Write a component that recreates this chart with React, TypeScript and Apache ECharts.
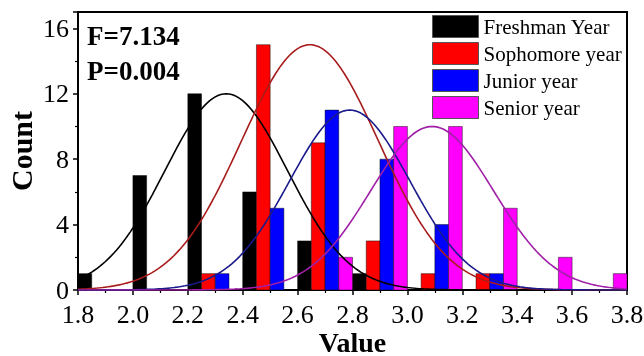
import React, { useEffect, useRef } from "react";
import * as echarts from "echarts";

// Histogram bins (each bin is 0.2 wide, split into four 0.05 slots, one per year)
const binStarts = [1.8, 2.0, 2.2, 2.4, 2.6, 2.8, 3.0, 3.2, 3.4, 3.6];
const seriesNames = ["Freshman Year", "Sophomore year", "Junior year", "Senior year"];
const freshman = [1, 7, 12, 6, 3, 1, 0, 0, 0, 0];
const sophomore = [0, 0, 1, 15, 9, 3, 1, 1, 0, 0];
const junior = [0, 0, 1, 5, 11, 8, 4, 1, 0, 0];
const senior = [0, 0, 0, 0, 2, 10, 10, 5, 2, 1];

// Normal-fit curve parameters per year
const fitMean = [2.34, 2.645, 2.79, 3.09];
const fitSd = [0.224, 0.25, 0.219, 0.224];
const fitPeak = [12, 15, 11, 10];

const barColors = ["#000000", "#ff0000", "#0000ff", "#ff00ff"];
const curveColors = ["#000000", "#a81c1c", "#1a1a8c", "#a020a8"];

const yTicks = [0, 4, 8, 12, 16];
const statsLines = ["F=7.134", "P=0.004"];

const SERIF = "'Times New Roman', 'Liberation Serif', serif";
const SLOT = 0.05;

function barData(values: number[], slot: number) {
  return values
    .map((v, i) => [binStarts[i] + slot * SLOT, binStarts[i] + (slot + 1) * SLOT, v])
    .filter((d) => d[2] > 0);
}

function curveData(k: number) {
  const pts: number[][] = [];
  for (let i = 0; i <= 200; i++) {
    const x = 1.8 + i * 0.01;
    const z = (x - fitMean[k]) / fitSd[k];
    pts.push([x, fitPeak[k] * Math.exp(-0.5 * z * z)]);
  }
  return pts;
}

export default function App() {
  const ref = useRef<HTMLDivElement>(null);

  useEffect(() => {
    if (!ref.current) return;
    const chart = echarts.init(ref.current, null, { renderer: "svg" });
    const groups = [freshman, sophomore, junior, senior];

    const barSeries = groups.map((vals, k) => ({
      name: seriesNames[k],
      type: "custom",
      data: barData(vals, k),
      encode: { x: [0, 1], y: 2 },
      itemStyle: { color: barColors[k] },
      z: 2,
      renderItem: (params: any, api: any) => {
        const p0 = api.coord([api.value(0), api.value(2)]);
        const p1 = api.coord([api.value(1), 0]);
        return {
          type: "rect",
          shape: { x: p0[0], y: p0[1], width: p1[0] - p0[0], height: p1[1] - p0[1] },
          style: {
            fill: barColors[k],
            stroke: "rgba(0,0,0,0.45)",
            lineWidth: 1,
          },
        };
      },
    }));

    const lineSeries = groups.map((_, k) => ({
      name: seriesNames[k] + " fit",
      type: "line",
      data: curveData(k),
      showSymbol: false,
      smooth: false,
      lineStyle: { color: curveColors[k], width: 1.6 },
      z: 3,
    }));

    chart.setOption({
      animation: false,
      grid: {
        left: 78,
        right: 17,
        top: 12,
        bottom: 66,
        show: true,
        borderColor: "#000",
        borderWidth: 2,
        containLabel: false,
        outerBoundsMode: "none",
      },
      legend: {
        data: seriesNames,
        orient: "vertical",
        left: 432,
        top: 15,
        itemWidth: 46,
        itemHeight: 22,
        itemGap: 4,
        icon: "rect",
        itemStyle: { borderColor: "#555", borderWidth: 1 },
        textStyle: { fontFamily: SERIF, fontSize: 21, color: "#000" },
        padding: 0,
      },
      xAxis: {
        type: "value",
        min: 1.8,
        max: 3.8,
        interval: 0.2,
        name: "Value",
        nameLocation: "middle",
        nameGap: 40,
        nameMoveOverlap: false,
        nameTextStyle: {
          fontFamily: SERIF,
          fontSize: 28,
          fontWeight: "bold",
          color: "#000",
          lineHeight: 24,
        },
        axisLine: { show: true, lineStyle: { color: "#000", width: 2 } },
        axisTick: { show: true, length: 5, inside: false, lineStyle: { color: "#000", width: 1.5 } },
        minorTick: { show: true, splitNumber: 2, length: 3, lineStyle: { color: "#000", width: 1.2 } },
        splitLine: { show: false },
        axisLabel: {
          fontFamily: SERIF,
          fontSize: 26,
          lineHeight: 22,
          color: "#000",
          margin: 13,
          formatter: (v: number) => v.toFixed(1),
        },
      },
      yAxis: {
        type: "value",
        min: 0,
        max: 17,
        interval: 4,
        name: "Count",
        nameLocation: "middle",
        nameGap: 42,
        nameMoveOverlap: false,
        nameTextStyle: { fontFamily: SERIF, fontSize: 30, fontWeight: "bold", color: "#000" },
        axisLine: { show: true, lineStyle: { color: "#000", width: 2 } },
        axisTick: { show: true, length: 5, inside: false, lineStyle: { color: "#000", width: 1.5 } },
        minorTick: { show: true, splitNumber: 2, length: 3, lineStyle: { color: "#000", width: 1.2 } },
        splitLine: { show: false },
        axisLabel: {
          fontFamily: SERIF,
          fontSize: 26,
          lineHeight: 22,
          color: "#000",
          margin: 9,
          formatter: (v: number) => (yTicks.includes(v) ? String(v) : ""),
        },
      },
      graphic: statsLines.map((t, i) => ({
        type: "text",
        left: 87,
        top: 22 + i * 35,
        z: 10,
        style: {
          text: t,
          fontFamily: SERIF,
          fontSize: 27,
          fontWeight: "bold",
          fill: "#000",
        },
      })),
      series: [...barSeries, ...lineSeries],
    });

    return () => chart.dispose();
  }, []);

  return (
    <div
      ref={ref}
      style={{ position: "fixed", left: 0, top: 0, width: 644, height: 356 }}
    />
  );
}
